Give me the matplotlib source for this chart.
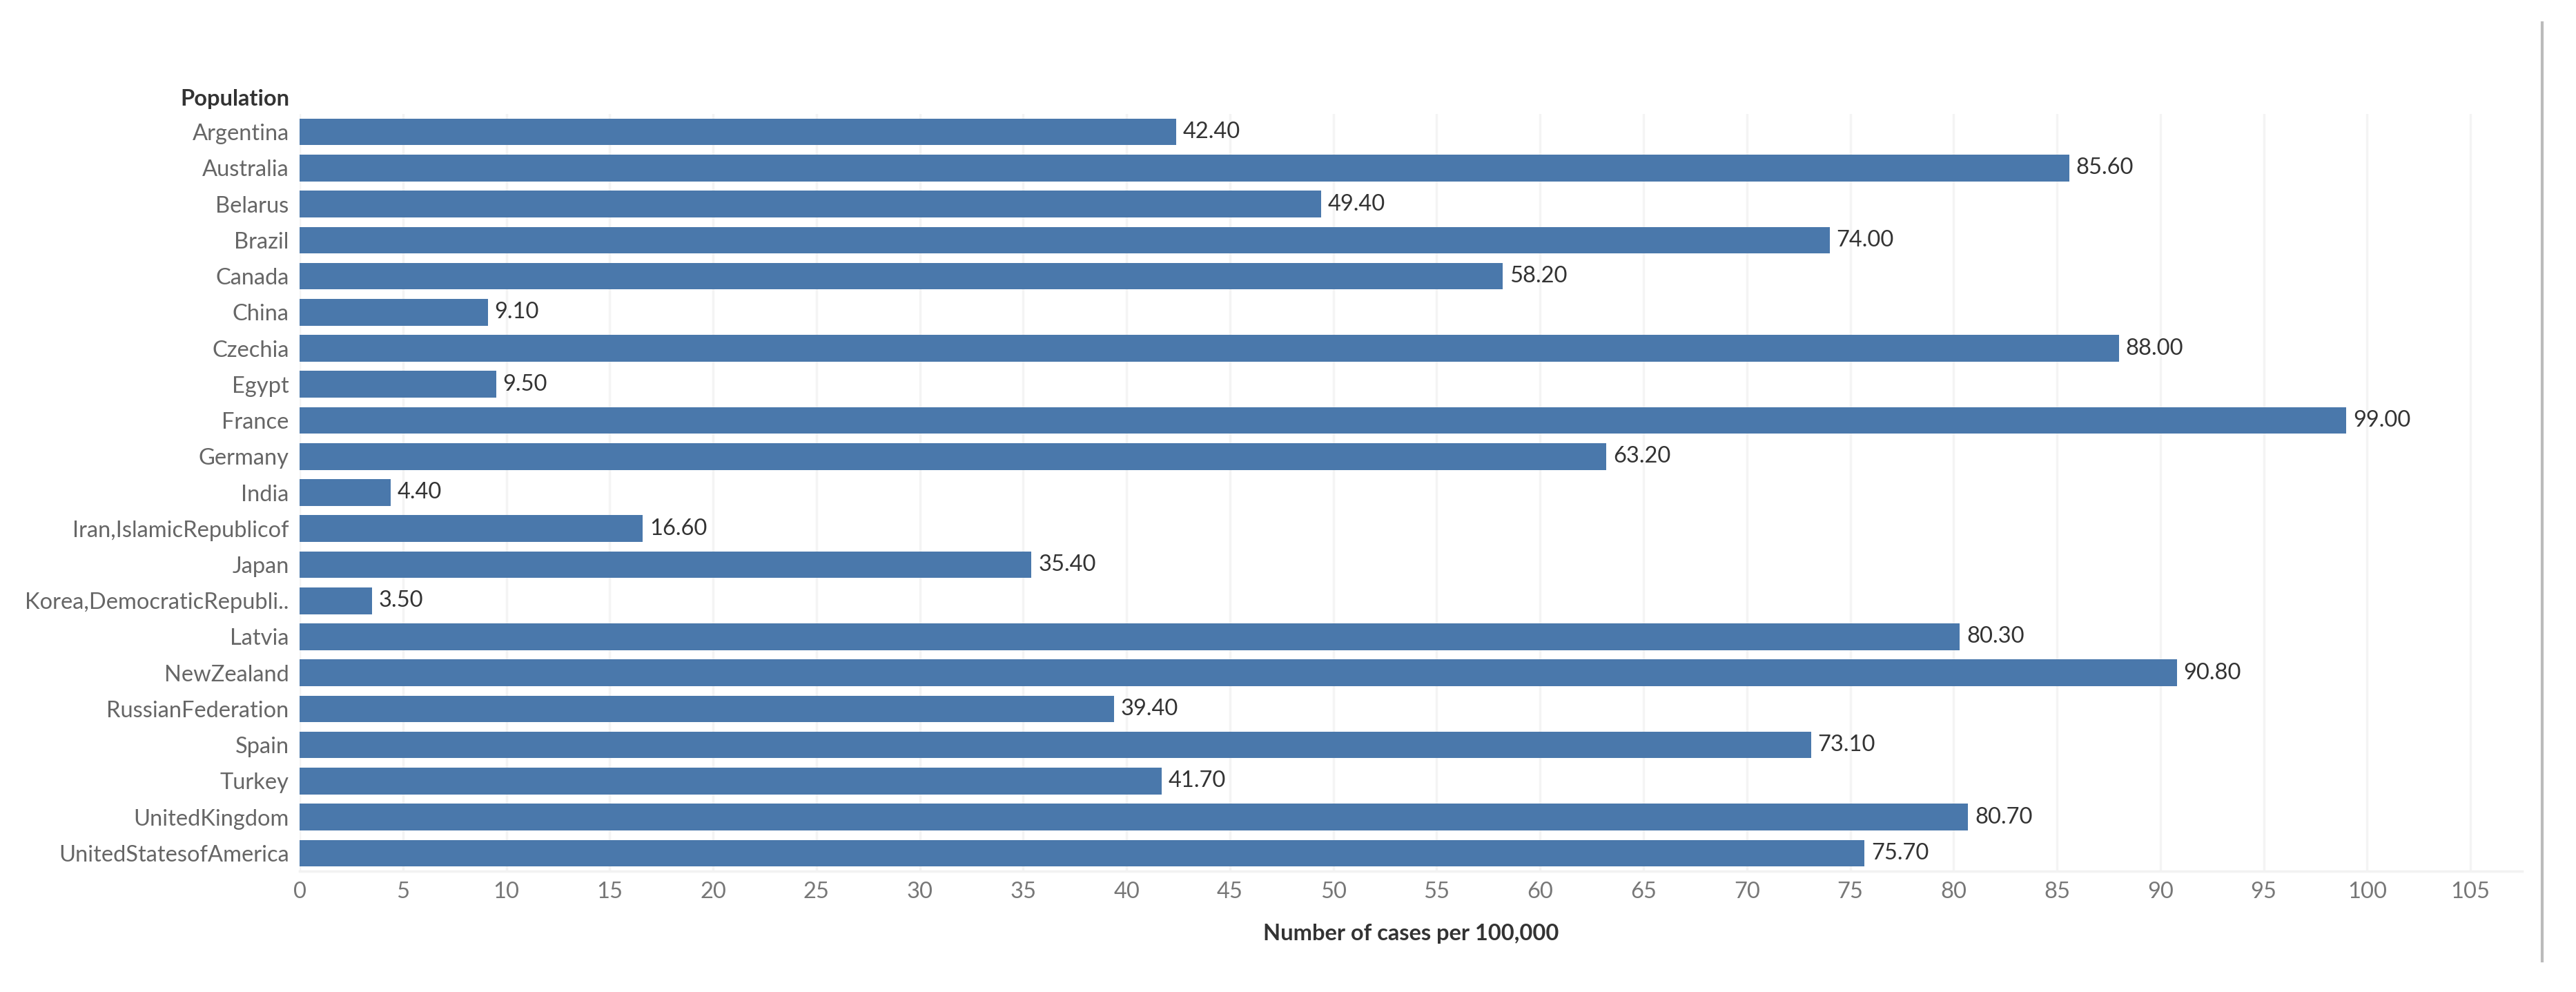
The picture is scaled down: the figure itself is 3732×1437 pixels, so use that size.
import matplotlib
matplotlib.use("Agg")
import matplotlib.pyplot as plt
from matplotlib.lines import Line2D

countries = ["Argentina", "Australia", "Belarus", "Brazil", "Canada", "China",
             "Czechia", "Egypt", "France", "Germany", "India",
             "Iran,IslamicRepublicof", "Japan", "Korea,DemocraticRepubli..",
             "Latvia", "NewZealand", "RussianFederation", "Spain", "Turkey",
             "UnitedKingdom", "UnitedStatesofAmerica"]
cases = [42.4, 85.6, 49.4, 74.0, 58.2, 9.1, 88.0, 9.5, 99.0, 63.2, 4.4,
         16.6, 35.4, 3.5, 80.3, 90.8, 39.4, 73.1, 41.7, 80.7, 75.7]
xticks = list(range(0, 110, 5))

FONT = ["Liberation Sans Narrow", "Lato", "DejaVu Sans"]
plt.rcParams["font.family"] = FONT
BAR = "#4a78ab"
FS = 23.5

W, H = 3732, 1437
fig = plt.figure(figsize=(W / 100, H / 100), dpi=100)
left, right = 434 / W, 3654 / W
top, bottom = 1 - 165 / H, 1 - 1262 / H
ax = fig.add_axes([left, bottom, right - left, top - bottom])

ypos = list(range(len(countries)))
ax.barh(ypos, cases, height=0.74, color=BAR, zorder=3)
for y, v in zip(ypos, cases):
    ax.annotate(f"{v:.2f}", (v, y), xytext=(7, 0), textcoords="offset points",
                va="center", ha="left", fontsize=FS, color="#333333")

ax.set_xlim(0, 107.5)
ax.set_ylim(len(countries) - 0.5, -0.5)
ax.set_yticks(ypos)
ax.set_yticklabels(countries, fontsize=FS, color="#666666")
ax.set_xticks(xticks)
ax.set_xticklabels([str(t) for t in xticks], fontsize=FS, color="#777777")
ax.tick_params(axis="both", length=0)
ax.tick_params(axis="y", pad=11)
ax.tick_params(axis="x", pad=11)
ax.grid(axis="x", color="#f4f4f4", linewidth=2.5, zorder=0)
ax.set_axisbelow(True)
for s in ["top", "right", "left"]:
    ax.spines[s].set_visible(False)
ax.spines["bottom"].set_color("#f2f2f2")
ax.spines["bottom"].set_linewidth(2.5)

ax.set_xlabel("Number of cases per 100,000", fontsize=FS, color="#333333",
              fontweight="bold", labelpad=22)
fig.text(419 / W, 1 - 143 / H, "Population", ha="right", va="center",
         fontsize=FS, fontweight="bold", color="#333333")

# thin divider on the right edge
fig.add_artist(Line2D([3683 / W, 3683 / W], [1 - 33 / H, 1 - 1392 / H],
                      color="#bbbbbb", linewidth=3))

fig.savefig("out.png", dpi=100)
